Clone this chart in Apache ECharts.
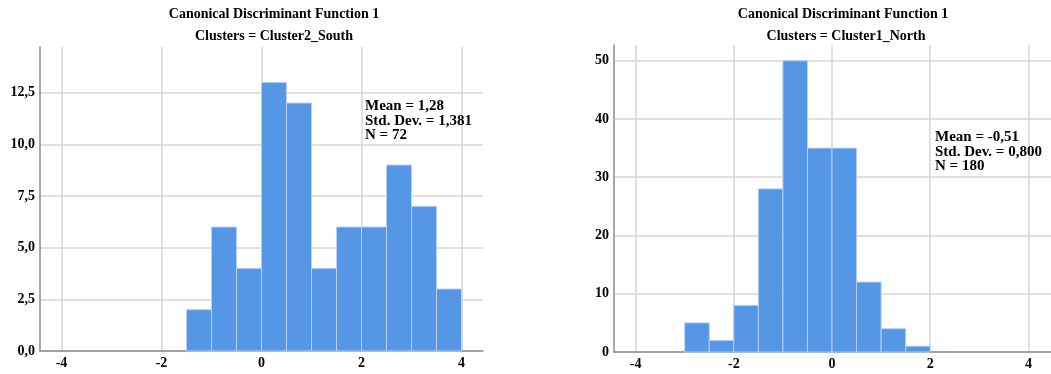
<!DOCTYPE html>
<html>
<head>
<meta charset="utf-8">
<script src="https://cdn.jsdelivr.net/npm/echarts@6/dist/echarts.min.js"></script>
<style>
html,body{margin:0;padding:0;background:#fff;}
#c{width:1051px;height:374px;}
</style>
</head>
<body>
<div id="c"></div>
<script>
// ---- data ----
var mainTitle = 'Canonical Discriminant Function 1';
var southTitle = 'Clusters = Cluster2_South';
var northTitle = 'Clusters = Cluster1_North';
var binWidth = 0.5;
var southBinStarts = [-1.5, -1.0, -0.5, 0.0, 0.5, 1.0, 1.5, 2.0, 2.5, 3.0, 3.5];
var southCounts    = [2, 6, 4, 13, 12, 4, 6, 6, 9, 7, 3];
var northBinStarts = [-3.0, -2.5, -2.0, -1.5, -1.0, -0.5, 0.0, 0.5, 1.0, 1.5];
var northCounts    = [5, 2, 8, 28, 50, 35, 35, 12, 4, 1];
var southStats = ['Mean = 1,28', 'Std. Dev. = 1,381', 'N = 72'];
var northStats = ['Mean = -0,51', 'Std. Dev. = 0,800', 'N = 180'];

var FONT = '"Liberation Serif", "Times New Roman", serif';
var barColor = '#5596e5';

function toData(starts, counts){
  return starts.map(function(s,i){ return [s, s + binWidth, counts[i]]; });
}
function renderBin(params, api){
  var p0 = api.coord([api.value(0), api.value(2)]);
  var p1 = api.coord([api.value(1), 0]);
  return {
    type: 'rect',
    shape: {x: p0[0], y: p0[1], width: p1[0]-p0[0], height: p1[1]-p0[1]},
    style: {fill: barColor, stroke: '#b5d0f2', lineWidth: 1}
  };
}
function xAxis(gi, min, max){
  return {
    type: 'value', gridIndex: gi, min: min, max: max, splitNumber: 4,
    axisLine: {show: true, onZero: false, lineStyle: {color: '#8c8c8c', width: 1.5}},
    axisTick: {show: false},
    axisLabel: {
      showMinLabel: false, showMaxLabel: false, margin: 5,
      fontFamily: FONT, fontWeight: 'bold', fontSize: 14, color: '#000',
      formatter: function(v){ return (Math.abs(v - Math.round(v)) < 1e-6) ? String(Math.round(v)) : ''; }
    },
    splitLine: {show: true, showMinLine: false, showMaxLine: false, lineStyle: {color: '#d6d6d6', width: 1.5}}
  };
}
function yAxis(gi, max, interval, fmt){
  return {
    type: 'value', gridIndex: gi, min: 0, max: max, interval: interval,
    axisLine: {show: true, onZero: false, lineStyle: {color: '#8c8c8c', width: 1.5}},
    axisTick: {show: false},
    axisLabel: {
      showMaxLabel: false, margin: 5,
      fontFamily: FONT, fontWeight: 'bold', fontSize: 14, color: '#000',
      formatter: fmt
    },
    splitLine: {show: true, showMaxLine: false, lineStyle: {color: '#d6d6d6', width: 1.5}}
  };
}
var titleStyle = {fontFamily: FONT, fontWeight: 'bold', fontSize: 14, color: '#000'};
var statsStyle = {fontFamily: FONT, fontWeight: 'bold', fontSize: 15, color: '#000', lineHeight: 14.5};

var chart = echarts.init(document.getElementById('c'), null, {renderer: 'canvas'});
chart.setOption({
  animation: false,
  backgroundColor: '#fff',
  title: [
    {text: mainTitle, left: 274, top: 7, textAlign: 'center', textStyle: titleStyle, padding: 0},
    {text: southTitle, left: 274, top: 29, textAlign: 'center', textStyle: titleStyle, padding: 0},
    {text: mainTitle, left: 843, top: 7, textAlign: 'center', textStyle: titleStyle, padding: 0},
    {text: northTitle, left: 846, top: 29, textAlign: 'center', textStyle: titleStyle, padding: 0},
    {text: southStats.join('\n'), left: 365, top: 99, padding: 0, textStyle: statsStyle},
    {text: northStats.join('\n'), left: 935, top: 130, padding: 0, textStyle: statsStyle}
  ],
  grid: [
    {left: 40, top: 47, width: 443, height: 304},
    {left: 614, top: 45, width: 437, height: 307}
  ],
  xAxis: [xAxis(0, -4.43, 4.43), xAxis(1, -4.44, 4.46)],
  yAxis: [
    yAxis(0, 14.71, 2.5, function(v){ return v.toFixed(1).replace('.', ','); }),
    yAxis(1, 52.7, 10, function(v){ return String(v); })
  ],
  series: [
    {type: 'custom', xAxisIndex: 0, yAxisIndex: 0, renderItem: renderBin,
     encode: {x: [0, 1], y: 2}, data: toData(southBinStarts, southCounts)},
    {type: 'custom', xAxisIndex: 1, yAxisIndex: 1, renderItem: renderBin,
     encode: {x: [0, 1], y: 2}, data: toData(northBinStarts, northCounts)}
  ]
});
</script>
</body>
</html>
